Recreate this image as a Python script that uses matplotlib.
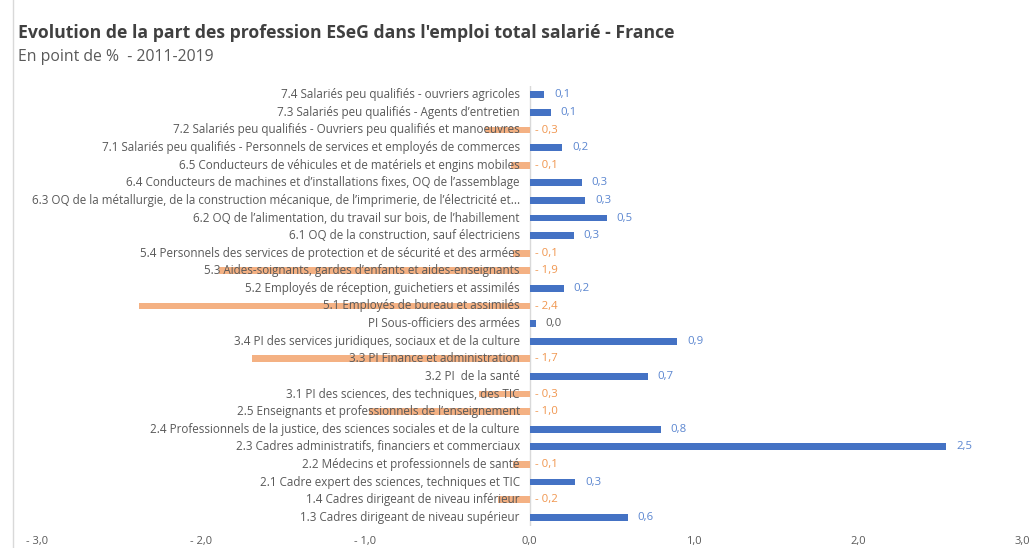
import matplotlib
matplotlib.use("Agg")
import matplotlib.pyplot as plt
from matplotlib.lines import Line2D
from matplotlib.ticker import FuncFormatter

plt.rcParams["font.family"] = ["Open Sans", "DejaVu Sans"]

# Categories, top to bottom as in the chart
categories = [
    "7.4 Salariés peu qualifiés - ouvriers agricoles",
    "7.3 Salariés peu qualifiés - Agents d’entretien",
    "7.2 Salariés peu qualifiés - Ouvriers peu qualifiés et manoeuvres",
    "7.1 Salariés peu qualifiés - Personnels de services et employés de commerces",
    "6.5 Conducteurs de véhicules et de matériels et engins mobiles",
    "6.4 Conducteurs de machines et d’installations fixes, OQ de l’assemblage",
    "6.3 OQ de la métallurgie, de la construction mécanique, de l’imprimerie, de l’électricité et...",
    "6.2 OQ de l’alimentation, du travail sur bois, de l’habillement",
    "6.1 OQ de la construction, sauf électriciens",
    "5.4 Personnels des services de protection et de sécurité et des armées",
    "5.3 Aides-soignants, gardes d’enfants et aides-enseignants",
    "5.2 Employés de réception, guichetiers et assimilés",
    "5.1 Employés de bureau et assimilés",
    "PI Sous-officiers des armées",
    "3.4 PI des services juridiques, sociaux et de la culture",
    "3.3 PI Finance et administration",
    "3.2 PI  de la santé",
    "3.1 PI des sciences, des techniques, des TIC",
    "2.5 Enseignants et professionnels de l’enseignement",
    "2.4 Professionnels de la justice, des sciences sociales et de la culture",
    "2.3 Cadres administratifs, financiers et commerciaux",
    "2.2 Médecins et professionnels de santé",
    "2.1 Cadre expert des sciences, techniques et TIC",
    "1.4 Cadres dirigeant de niveau inférieur",
    "1.3 Cadres dirigeant de niveau supérieur",
]

# Change in share of total salaried employment, percentage points 2011-2019
values = [0.09, 0.13, -0.27, 0.20, -0.11, 0.32, 0.34, 0.47, 0.27, -0.10,
          -1.89, 0.21, -2.38, 0.04, 0.90, -1.69, 0.72, -0.31, -0.98, 0.80,
          2.54, -0.10, 0.28, -0.19, 0.60]

x_ticks = [-3, -2, -1, 0, 1, 2, 3]

BLUE = "#4472C4"
ORANGE = "#F4B183"
BLUE_TXT = "#5B86D0"
ORANGE_TXT = "#F0964F"
GREY = "#595959"


def fmt(v):
    s = f"{abs(v):.1f}".replace(".", ",")
    return ("- " + s) if round(v, 1) < 0 else s


fig = plt.figure(figsize=(10.34, 5.48), dpi=100)
ax = fig.add_axes([37 / 1034, 1 - 526 / 548, (1022 - 37) / 1034, (526 - 86) / 548])

ypos = list(range(len(categories)))
colors = [BLUE if v >= 0 else ORANGE for v in values]
ax.barh(ypos, values, height=0.38, color=colors, zorder=2)
ax.axvline(0, color="#D9D9D9", lw=1, zorder=1)

for y, label, v in zip(ypos, categories, values):
    ax.annotate(label, (0, y), xytext=(-7, 0), textcoords="offset points",
                ha="right", va="center", fontsize=8.4, color=GREY, zorder=3)
    if round(v, 1) == 0:
        c, x0 = GREY, v
    elif v > 0:
        c, x0 = BLUE_TXT, v
    else:
        c, x0 = ORANGE_TXT, 0
    ax.annotate(fmt(v), (x0, y), xytext=(7 if v > 0 else 4, 0),
                textcoords="offset points", ha="left", va="center",
                fontsize=8.2, color=c, zorder=3)

ax.set_xlim(-3, 3)
ax.set_ylim(len(categories) - 0.5, -0.5)
ax.set_xticks(x_ticks)
ax.xaxis.set_major_formatter(FuncFormatter(lambda v, p: fmt(v)))
ax.tick_params(axis="x", length=0, pad=7, labelsize=8, labelcolor=GREY)
ax.set_yticks([])
for s in ax.spines.values():
    s.set_visible(False)

fig.text(18 / 1034, 1 - 33 / 548, "Evolution de la part des profession ESeG dans l'emploi total salarié - France",
         fontsize=12.7, fontweight="bold", color="#404040", va="center")
fig.text(18 / 1034, 1 - 57 / 548, "En point de %  - 2011-2019",
         fontsize=11.3, color=GREY, va="center")

fig.add_artist(Line2D([13 / 1034, 13 / 1034], [0, 1], color="#D9D9D9", lw=1))

fig.savefig("out.png", dpi=100)
